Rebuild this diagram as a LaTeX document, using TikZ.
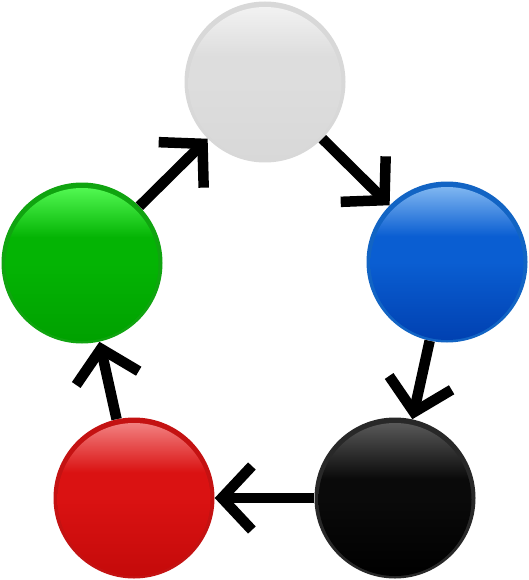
\documentclass[tikz,border=0pt]{standalone}
\usetikzlibrary{arrows.meta}
\definecolor{wRim}{RGB}{216,216,216}
\definecolor{wTop}{RGB}{244,244,244}
\definecolor{wMid}{RGB}{221,221,221}
\definecolor{wBot}{RGB}{216,216,216}
\definecolor{bRim}{RGB}{18,100,196}
\definecolor{bTop}{RGB}{140,192,244}
\definecolor{bMid}{RGB}{10,94,210}
\definecolor{bBot}{RGB}{0,64,176}
\definecolor{kRim}{RGB}{40,40,40}
\definecolor{kTop}{RGB}{96,96,96}
\definecolor{kMid}{RGB}{10,10,10}
\definecolor{kBot}{RGB}{0,0,0}
\definecolor{rRim}{RGB}{196,18,18}
\definecolor{rTop}{RGB}{244,140,140}
\definecolor{rMid}{RGB}{218,18,18}
\definecolor{rBot}{RGB}{196,10,10}
\definecolor{gRim}{RGB}{16,164,16}
\definecolor{gTop}{RGB}{90,255,90}
\definecolor{gMid}{RGB}{4,180,4}
\definecolor{gBot}{RGB}{0,160,0}
\pgfdeclareverticalshading{ballw}{100bp}{color(0bp)=(wBot); color(25bp)=(wBot); color(50bp)=(wMid); color(58bp)=(wMid); color(75bp)=(wTop); color(100bp)=(wTop)}
\pgfdeclareverticalshading{ballb}{100bp}{color(0bp)=(bBot); color(25bp)=(bBot); color(50bp)=(bMid); color(58bp)=(bMid); color(75bp)=(bTop); color(100bp)=(bTop)}
\pgfdeclareverticalshading{ballk}{100bp}{color(0bp)=(kBot); color(25bp)=(kBot); color(50bp)=(kMid); color(56bp)=(kMid); color(75bp)=(kTop); color(100bp)=(kTop)}
\pgfdeclareverticalshading{ballr}{100bp}{color(0bp)=(rBot); color(25bp)=(rBot); color(50bp)=(rMid); color(58bp)=(rMid); color(75bp)=(rTop); color(100bp)=(rTop)}
\pgfdeclareverticalshading{ballg}{100bp}{color(0bp)=(gBot); color(25bp)=(gBot); color(50bp)=(gMid); color(58bp)=(gMid); color(75bp)=(gTop); color(100bp)=(gTop)}
\tikzset{
  ball/.style={circle, minimum size=161pt, inner sep=0pt, fill=#1Rim,
    path picture={\shade[shading=ball#1]
      ([yshift=-1.5pt]path picture bounding box.center) circle (76.5pt);}},
  arr/.style={line width=10.5pt, line cap=butt, -{Straight Barb[length=30pt,width=64pt,sharp]}}
}
\begin{document}
\begin{tikzpicture}[x=1pt,y=-1pt]
\useasboundingbox (0,0) rectangle (529,580);
\node[ball=w] (w) at (265,82) {};
\node[ball=b] (b) at (447,262) {};
\node[ball=k] (k) at (395,498) {};
\node[ball=r] (r) at (134,498) {};
\node[ball=g] (g) at (82,263) {};
\draw[arr] (g) -- (w);
\draw[arr] (w) -- (b);
\draw[arr] (b) -- (k);
\draw[arr] (k) -- (r);
\draw[arr] (r) -- (g);
\end{tikzpicture}
\end{document}
